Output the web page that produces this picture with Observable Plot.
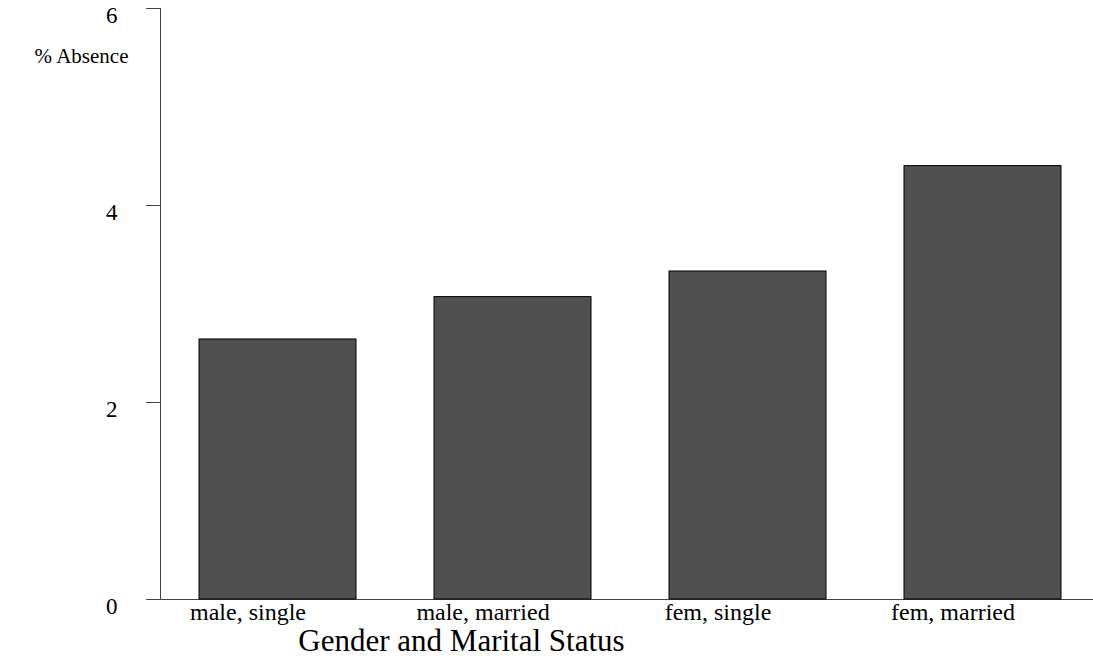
<!DOCTYPE html>
<html>
<head>
<meta charset="utf-8">
<script src="https://cdn.jsdelivr.net/npm/d3@7"></script>
<script src="https://cdn.jsdelivr.net/npm/@observablehq/plot@0.6"></script>
<style>
  body { margin: 0; background: #fff; }
  #chart svg { display: block; }
</style>
</head>
<body>
<div id="chart"></div>
<script>
const groups = ["male, single", "male, married", "fem, single", "fem, married"];
const absence = [2.64, 3.07, 3.33, 4.40];
const yTicks = [0, 2, 4, 6];

const data = groups.map((g, i) => ({group: g, value: absence[i]}));

const serif = "'Liberation Serif', 'Times New Roman', serif";

let chart = Plot.plot({
  width: 1093,
  height: 663,
  marginTop: 8,
  marginBottom: 64,
  marginLeft: 160,
  marginRight: 0,
  style: {fontFamily: serif, fontSize: "24px", color: "#000", background: "#fff"},
  x: {
    domain: groups,
    range: [160, 1100],
    paddingInner: 0.332,
    paddingOuter: 0.166,
    label: null
  },
  y: {
    domain: [0, 6],
    label: null
  },
  marks: [
    Plot.ruleY([0], {stroke: "#444"}),
    Plot.frame({anchor: "left", stroke: "#444"}),
    Plot.barY(data, {x: "group", y: "value", fill: "#505050", stroke: "#000", strokeWidth: 1}),
    // tick marks only
    Plot.axisY({ticks: yTicks, tickFormat: () => "", tickSize: 14, stroke: "#444", label: null}),
    // tick labels, sitting a little below their ticks
    Plot.axisY({ticks: yTicks, tickFormat: "d", tickSize: 0, tickPadding: 43, dy: 7, label: null, fontSize: 23}),
    Plot.axisX({tickSize: 0, tickPadding: 3, dx: -30, label: null, fontSize: 24}),
    Plot.text(["% Absence"], {frameAnchor: "top-left", dx: -32, dy: 40, textAnchor: "end", fontSize: 21}),
    Plot.text(["Gender and Marital Status"], {frameAnchor: "bottom-left", dx: 301, dy: 51, textAnchor: "middle", fontSize: 31})
  ]
});

d3.select("#chart").append(() => chart);
</script>
</body>
</html>
